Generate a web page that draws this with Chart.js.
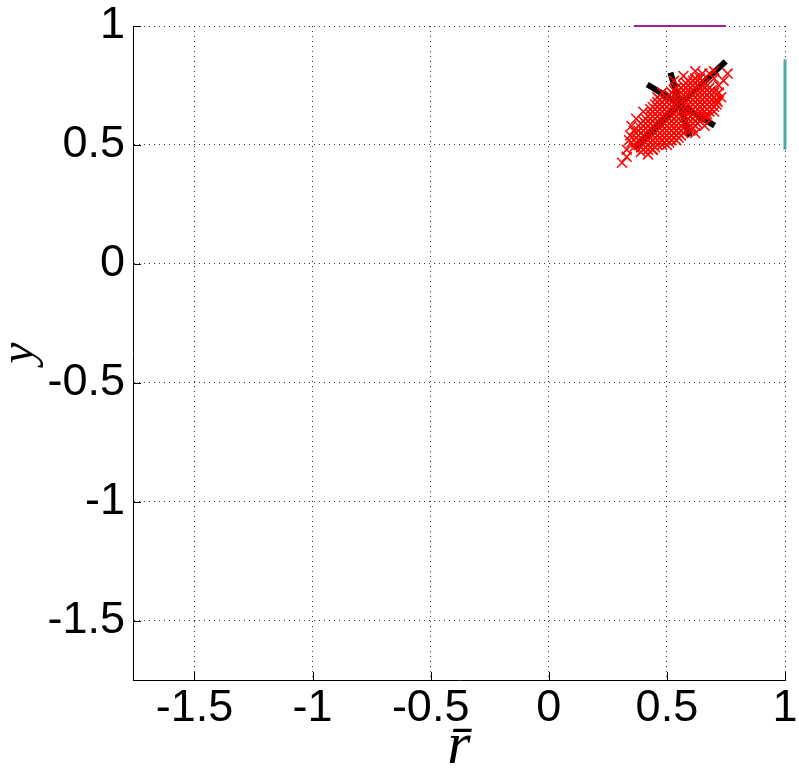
<!DOCTYPE html>
<html>
<head>
<meta charset="utf-8">
<script src="https://cdn.jsdelivr.net/npm/chart.js@4"></script>
<style>
  body { margin: 0; background: #fff; }
  canvas { display: block; }
</style>
</head>
<body>
<canvas id="myChart" width="799" height="769"></canvas>
<script>
// axis limits and tick values
const xLimits = [-1.76, 1];
const yLimits = [-1.75, 1];
const tickValues = [-1.5, -1, -0.5, 0, 0.5, 1];

// dense core of the sample cloud, one row per y value: [y, x values...]
const coreRows = [
  [0.48, 0.40, 0.42, 0.44],
  [0.49, 0.39, 0.41, 0.43, 0.45],
  [0.50, 0.38, 0.40, 0.42, 0.44, 0.46, 0.48, 0.50],
  [0.51, 0.37, 0.39, 0.41, 0.43, 0.45, 0.47, 0.49, 0.51],
  [0.52, 0.38, 0.40, 0.42, 0.44, 0.46, 0.48, 0.50, 0.52, 0.54],
  [0.53, 0.37, 0.39, 0.41, 0.43, 0.45, 0.47, 0.49, 0.51, 0.53, 0.55],
  [0.54, 0.38, 0.40, 0.42, 0.44, 0.46, 0.48, 0.50, 0.52, 0.54, 0.56],
  [0.55, 0.37, 0.39, 0.41, 0.43, 0.45, 0.47, 0.49, 0.51, 0.53, 0.55, 0.57],
  [0.56, 0.38, 0.40, 0.42, 0.44, 0.46, 0.48, 0.50, 0.52, 0.54, 0.56, 0.58, 0.60],
  [0.57, 0.39, 0.41, 0.43, 0.45, 0.47, 0.49, 0.51, 0.53, 0.55, 0.57, 0.59, 0.61],
  [0.58, 0.40, 0.42, 0.44, 0.46, 0.48, 0.50, 0.52, 0.54, 0.56, 0.58, 0.60, 0.62],
  [0.59, 0.39, 0.41, 0.43, 0.45, 0.47, 0.49, 0.51, 0.53, 0.55, 0.57, 0.59, 0.61, 0.63],
  [0.60, 0.40, 0.42, 0.44, 0.46, 0.48, 0.50, 0.52, 0.54, 0.56, 0.58, 0.60, 0.62, 0.64],
  [0.61, 0.41, 0.43, 0.45, 0.47, 0.49, 0.51, 0.53, 0.55, 0.57, 0.59, 0.61, 0.63, 0.65],
  [0.62, 0.42, 0.44, 0.46, 0.48, 0.50, 0.52, 0.54, 0.56, 0.58, 0.60, 0.62, 0.64, 0.66],
  [0.63, 0.43, 0.45, 0.47, 0.49, 0.51, 0.53, 0.55, 0.57, 0.59, 0.61, 0.63, 0.65, 0.67],
  [0.64, 0.44, 0.46, 0.48, 0.50, 0.52, 0.54, 0.56, 0.58, 0.60, 0.62, 0.64, 0.66, 0.68],
  [0.65, 0.43, 0.45, 0.47, 0.49, 0.51, 0.53, 0.55, 0.57, 0.59, 0.61, 0.63, 0.65, 0.67, 0.69],
  [0.66, 0.44, 0.46, 0.48, 0.50, 0.52, 0.54, 0.56, 0.58, 0.60, 0.62, 0.64, 0.66, 0.68, 0.70],
  [0.67, 0.45, 0.47, 0.49, 0.51, 0.53, 0.55, 0.57, 0.59, 0.61, 0.63, 0.65, 0.67, 0.69, 0.71],
  [0.68, 0.46, 0.48, 0.50, 0.52, 0.54, 0.56, 0.58, 0.60, 0.62, 0.64, 0.66, 0.68, 0.70],
  [0.69, 0.47, 0.49, 0.51, 0.53, 0.55, 0.57, 0.59, 0.61, 0.63, 0.65, 0.67, 0.69, 0.71],
  [0.70, 0.50, 0.52, 0.54, 0.56, 0.58, 0.60, 0.62, 0.64, 0.66, 0.68, 0.70],
  [0.71, 0.51, 0.53, 0.55, 0.57, 0.59, 0.61, 0.63, 0.65, 0.67, 0.69, 0.71],
  [0.72, 0.52, 0.54, 0.56, 0.58, 0.60, 0.62, 0.64, 0.66, 0.68, 0.70],
  [0.73, 0.53, 0.55, 0.57, 0.59, 0.61, 0.63, 0.65, 0.67, 0.69],
  [0.74, 0.54, 0.56, 0.58, 0.60, 0.62, 0.64, 0.66, 0.68],
  [0.75, 0.57, 0.59, 0.61, 0.63, 0.65, 0.67],
  [0.76, 0.58, 0.60, 0.62, 0.64, 0.66],
  [0.77, 0.59, 0.61, 0.63, 0.65],
  [0.78, 0.62, 0.64]
];

// scattered samples around the core (r-bar, y)
const strays = [
  [0.31,0.425],[0.33,0.45],[0.345,0.54],[0.36,0.49],[0.37,0.61],
  [0.35,0.58],[0.39,0.47],[0.42,0.46],[0.757,0.80],[0.715,0.68],
  [0.73,0.70],[0.65,0.80],[0.62,0.81],[0.70,0.81],[0.74,0.77],
  [0.40,0.64],[0.44,0.48],[0.60,0.58],[0.64,0.60],[0.67,0.62],
  [0.48,0.72],[0.53,0.77],[0.57,0.79],[0.34,0.52],[0.36,0.56],
  [0.72,0.75],[0.70,0.78],[0.68,0.80],[0.33,0.48],[0.35,0.51],
  [0.62,0.55],[0.66,0.58],[0.70,0.64],[0.72,0.72],[0.46,0.70]
];

// black principal lines through the cloud
const majorAxis = [[0.362,0.488],[0.749,0.851]];
const minorAxisA = [[0.417,0.754],[0.702,0.581]];
const minorAxisB = [[0.515,0.804],[0.596,0.535]];

// marginal ranges on the top and right edges
const topRange = [[0.36,1],[0.75,1]];
const rightRange = [[1,0.48],[1,0.86]];

const toXY = arr => arr.map(p => ({x: p[0], y: p[1]}));
const corePoints = coreRows.flatMap(row => row.slice(1).map(x => ({x: x, y: row[0]})));

function blackLine(pts) {
    return {
        type: 'line',
        data: toXY(pts),
        borderColor: '#000',
        borderWidth: 6,
        pointRadius: 0,
        order: 2
    };
}

// inward tick marks like the original
const innerTicks = {
    id: 'innerTicks',
    afterDraw(chart) {
        const c = chart.ctx;
        const xs = chart.scales.x, ys = chart.scales.y;
        const area = chart.chartArea;
        c.save();
        c.strokeStyle = '#000';
        c.lineWidth = 1;
        c.beginPath();
        tickValues.forEach(v => {
            const px = Math.round(xs.getPixelForValue(v)) + 0.5;
            c.moveTo(px, area.bottom);
            c.lineTo(px, area.bottom - 8);
            const py = Math.round(ys.getPixelForValue(v)) + 0.5;
            c.moveTo(area.left, py);
            c.lineTo(area.left + 8, py);
        });
        c.stroke();
        c.restore();
    }
};

const tickFont = {family: 'Liberation Sans', size: 45};

new Chart(document.getElementById('myChart'), {
    type: 'scatter',
    data: {
        datasets: [
            {
                data: corePoints.concat(toXY(strays)),
                pointStyle: 'crossRot',
                pointRadius: 7,
                borderColor: '#ff0000',
                backgroundColor: '#ff0000',
                borderWidth: 1.5,
                order: 0
            },
            blackLine(majorAxis),
            blackLine(minorAxisA),
            blackLine(minorAxisB),
            {
                type: 'line',
                data: toXY(topRange),
                borderColor: '#a020a0',
                borderWidth: 2,
                pointRadius: 0,
                clip: false,
                order: 1
            },
            {
                type: 'line',
                data: toXY(rightRange),
                borderColor: '#4faaa8',
                borderWidth: 3,
                pointRadius: 0,
                clip: false,
                order: 1
            }
        ]
    },
    options: {
        responsive: false,
        animation: false,
        layout: {padding: 0},
        plugins: {legend: {display: false}, tooltip: {enabled: false}},
        scales: {
            x: {
                type: 'linear',
                min: xLimits[0],
                max: xLimits[1],
                afterBuildTicks: s => { s.ticks = tickValues.map(v => ({value: v})); },
                afterFit: s => { s.height = 89; s.paddingRight = 14; s.paddingLeft = 0; },
                ticks: {
                    font: tickFont,
                    color: '#000',
                    padding: 2,
                    maxRotation: 0,
                    callback: v => String(v)
                },
                grid: {color: '#333', lineWidth: 1, drawTicks: false},
                border: {display: true, color: '#000', width: 1, dash: [1, 4]},
                title: {
                    display: true, text: 'r\u0304', color: '#000',
                    font: {family: 'Liberation Serif', size: 60, style: 'italic', lineHeight: 1},
                    padding: {top: 0, bottom: -8}
                }
            },
            y: {
                type: 'linear',
                min: yLimits[0],
                max: yLimits[1],
                afterBuildTicks: s => { s.ticks = tickValues.map(v => ({value: v})); },
                afterFit: s => { s.width = 133; s.paddingTop = 26; s.paddingBottom = 0; },
                ticks: {
                    font: tickFont,
                    color: '#000',
                    padding: 8,
                    callback: v => String(v)
                },
                grid: {color: '#333', lineWidth: 1, drawTicks: false},
                border: {display: true, color: '#000', width: 1, dash: [1, 4]},
                title: {
                    display: true, text: 'y', color: '#000',
                    font: {family: 'Liberation Serif', size: 48, style: 'italic', lineHeight: 0.85},
                    padding: {top: 0, bottom: 0}
                }
            }
        }
    },
    plugins: [innerTicks]
});
</script>
</body>
</html>
